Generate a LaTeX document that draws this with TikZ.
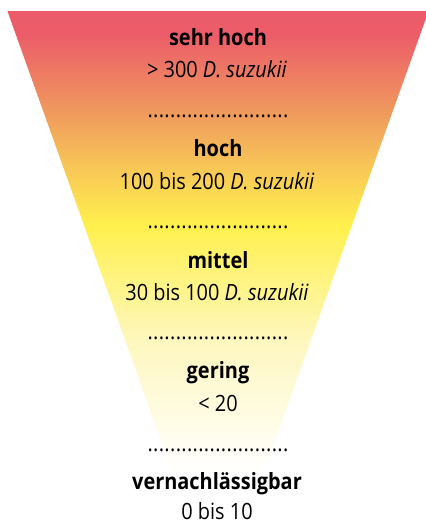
\documentclass[tikz,border=0pt]{standalone}
\usepackage{fontspec}
\setmainfont[FakeStretch=0.89]{Open Sans}
\usetikzlibrary{calc}
\definecolor{c0}{HTML}{EB5B69}
\definecolor{c1}{HTML}{EC5D69}
\definecolor{c2}{HTML}{F0A05C}
\definecolor{c3}{HTML}{F8C557}
\definecolor{c4}{HTML}{FFF04C}
\definecolor{c5}{HTML}{FEF7BE}
\definecolor{c6}{HTML}{FFFFFF}
\tikzset{
  lbl/.style={anchor=base, font=\fontsize{22.4}{25}\selectfont\bfseries, inner sep=0pt},
  val/.style={anchor=base, font=\fontsize{22.4}{25}\selectfont, inner sep=0pt},
  dots/.style={anchor=base, font=\fontsize{22.4}{25}\selectfont, inner sep=0pt},
}
\newcommand{\dotrow}{\makebox[141pt][s]{.\hfill.\hfill.\hfill.\hfill.\hfill.\hfill.\hfill.\hfill.\hfill.\hfill.\hfill.\hfill.\hfill.\hfill.\hfill.\hfill.\hfill.\hfill.\hfill.\hfill.\hfill.\hfill.\hfill.\hfill.}}
\begin{document}
\begin{tikzpicture}[x=1pt,y=-1pt]
\useasboundingbox (0,0) rectangle (426,523);
\begin{scope}
\clip (7.4,11) -- (428.6,11) -- (218,600) -- cycle;
\shade[top color=c0, bottom color=c1] (0,11) rectangle (426,35);
\shade[top color=c1, bottom color=c2] (0,35) rectangle (426,120);
\shade[top color=c2, bottom color=c3] (0,120) rectangle (426,165);
\shade[top color=c3, bottom color=c4] (0,165) rectangle (426,225);
\shade[top color=c4, bottom color=c5] (0,225) rectangle (426,340);
\shade[top color=c5, bottom color=c6] (0,340) rectangle (426,472);
\end{scope}
\node[lbl] (l1) at (218,45) {sehr hoch};
\node[val] (v1) at (217,77) {> 300 \textit{D. suzukii}};
\node[dots] (d1) at (218,117) {\dotrow};
\node[lbl] (l2) at (218,156) {hoch};
\node[val] (v2) at (217,189) {100 bis 200 \textit{D. suzukii}};
\node[dots] (d2) at (218,228) {\dotrow};
\node[lbl] (l3) at (218,268) {mittel};
\node[val] (v3) at (217,300) {30 bis 100 \textit{D. suzukii}};
\node[dots] (d3) at (218,339) {\dotrow};
\node[lbl] (l4) at (218,378) {gering};
\node[val] (v4) at (218,411) {< 20};
\node[dots] (d4) at (218,451) {\dotrow};
\node[lbl] (l5) at (217,489) {vernachlässigbar};
\node[val] (v5) at (217,519) {0 bis 10};
\end{tikzpicture}
\end{document}
